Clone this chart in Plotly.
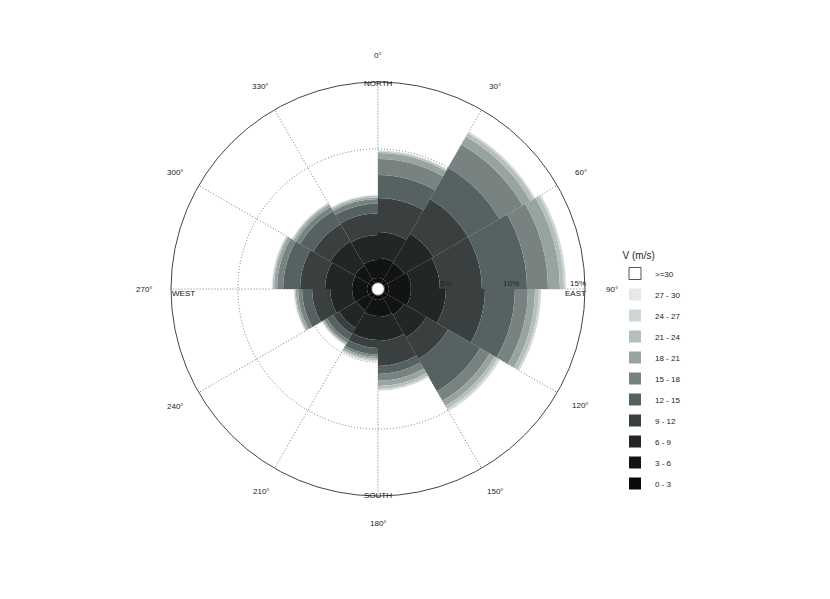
import math
import plotly.graph_objects as go

# ---- data ----
directions = [15, 45, 75, 105, 135, 165, 195, 225, 255, 285, 315, 345]  # sector centres (deg)
sector_width = 30
speed_bins = ["0 - 3", "3 - 6", "6 - 9", "9 - 12", "12 - 15", "15 - 18",
              "18 - 21", "21 - 24", "24 - 27", "27 - 30", ">=30"]
# frequency (%) of each speed bin, per direction sector
freq_0_3   = [0.34, 0.34, 0.34, 0.34, 0.34, 0.34, 0.34, 0.34, 0.34, 0.34, 0.34, 0.34]
freq_3_6   = [1.49, 1.42, 1.64, 1.64, 1.42, 1.27, 1.19, 1.04, 1.12, 1.12, 1.19, 1.34]
freq_6_9   = [1.95, 2.54, 2.17, 2.62, 1.94, 1.79, 1.80, 1.50, 1.64, 2.02, 2.10, 1.87]
freq_9_12  = [2.54, 2.99, 3.14, 2.92, 1.87, 1.87, 0.60, 0.52, 1.35, 1.87, 1.49, 1.63]
freq_12_15 = [1.72, 2.70, 3.37, 2.24, 2.77, 0.60, 0.50, 0.53, 0.75, 1.27, 1.13, 0.74]
freq_15_18 = [1.20, 2.01, 1.57, 0.97, 0.82, 0.52, 0.17, 0.22, 0.30, 0.45, 0.37, 0.33]
freq_18_21 = [0.45, 0.68, 0.90, 0.53, 0.45, 0.38, 0.15, 0.11, 0.18, 0.22, 0.19, 0.14]
freq_21_24 = [0.11, 0.30, 0.30, 0.30, 0.26, 0.22, 0.11, 0.08, 0.08, 0.11, 0.11, 0.12]
freq_24_27 = [0.07, 0.11, 0.15, 0.15, 0.15, 0.12, 0.08, 0.04, 0.04, 0.04, 0.04, 0.03]
freq_27_30 = [0.04, 0.04, 0.03, 0.03, 0.08, 0.03, 0.03, 0.03, 0.03, 0.04, 0.03, 0.04]
freq_ge_30 = [0, 0, 0, 0, 0, 0, 0, 0, 0, 0, 0, 0]
angle_ticks = [0, 30, 60, 90, 120, 150, 180, 210, 240, 270, 300, 330]
radial_ticks = [5, 10, 15]
compass = [("NORTH", 0), ("EAST", 90), ("SOUTH", 180), ("WEST", 270)]

series = [freq_0_3, freq_3_6, freq_6_9, freq_9_12, freq_12_15, freq_15_18,
          freq_18_21, freq_21_24, freq_24_27, freq_27_30, freq_ge_30]
colors = ["#0a0b0b", "#121413", "#222726", "#3a3f3f", "#566261", "#788381",
          "#98a4a1", "#b5bfbc", "#cfd6d4", "#e6e9e9", "#ffffff"]

W, H = 830, 599
BODY = 8                      # default page margin of the html body
CX, CY, R = 378, 289, 207     # target centre / radius on screen
HOLE = 0.031
FONT = "Liberation Sans, Arial, sans-serif"

fig = go.Figure()
for i, (name, vals, col) in enumerate(zip(speed_bins, series, colors)):
    is_white = name == ">=30"
    fig.add_trace(go.Barpolar(
        r=vals, theta=directions, width=[sector_width] * len(directions),
        name=name, legendgroup=name, legendrank=100 - i,
        marker=dict(color=col,
                    line=dict(color="#555555" if is_white else col,
                              width=1 if is_white else 0)),
        hoverinfo="name+r+theta",
    ))

def px_to_paper(x, y):
    return (x - BODY) / W, 1 - (y - BODY) / H

annotations = []

def label(x, y, text, xa="center", size=8, color="#222"):
    px, py = px_to_paper(x, y)
    annotations.append(dict(x=px, y=py, xref="paper", yref="paper", text=text,
                            xanchor=xa, yanchor="middle", showarrow=False,
                            font=dict(size=size, color=color, family=FONT)))

for a in angle_ticks:
    label(CX + 234 * math.sin(math.radians(a)), CY - 234 * math.cos(math.radians(a)), f"{a}°")

for name, a in compass:
    if a == 0:
        label(CX, CY - R + 1.5, name, "center", color="#111")
    elif a == 180:
        label(CX, CY + R - 1, name, "center", color="#111")
    elif a == 90:
        label(CX + R + 3, CY + 4, name, "right", color="#111")
    else:
        label(CX - R - 1, CY + 4, name, "left", color="#111")

r_scale = (R - R * HOLE) / 15.0
for v in radial_ticks:
    rr = R * HOLE + v * r_scale
    label(CX + rr + 3, CY - 5, f"{v}%", "right")

fig.update_layout(
    width=W, height=H,
    margin=dict(l=0, r=0, t=0, b=0, autoexpand=False),
    paper_bgcolor="white",
    font=dict(family=FONT, size=8, color="#222"),
    polar=dict(
        domain=dict(x=[(CX - BODY - R) / W, (CX - BODY + R) / W],
                    y=[(H - (CY - BODY) - R) / H, (H - (CY - BODY) + R) / H]),
        bgcolor="white",
        hole=HOLE,
        barmode="stack",
        angularaxis=dict(rotation=90, direction="clockwise",
                         tickmode="array", tickvals=angle_ticks,
                         showticklabels=False, ticks="",
                         showgrid=True, gridcolor="#7a7a7a", griddash="1px,2px", gridwidth=1,
                         showline=True, linecolor="#444444", linewidth=1),
        radialaxis=dict(range=[0, 15], tickmode="array", tickvals=radial_ticks,
                        showticklabels=False, ticks="", showline=False,
                        showgrid=True, gridcolor="#7a7a7a", griddash="1px,2px", gridwidth=1),
    ),
    showlegend=True,
    legend=dict(x=(615 - BODY) / W, y=1 - (246 - BODY) / H, xanchor="left", yanchor="top",
                traceorder="grouped", tracegroupgap=2,
                title=dict(text="&nbsp;&nbsp;V (m/s)", font=dict(size=10, color="#222", family=FONT)),
                font=dict(size=8, color="#222", family=FONT),
                bgcolor="rgba(0,0,0,0)"),
    annotations=annotations,
)

fig.write_html("out.html")
